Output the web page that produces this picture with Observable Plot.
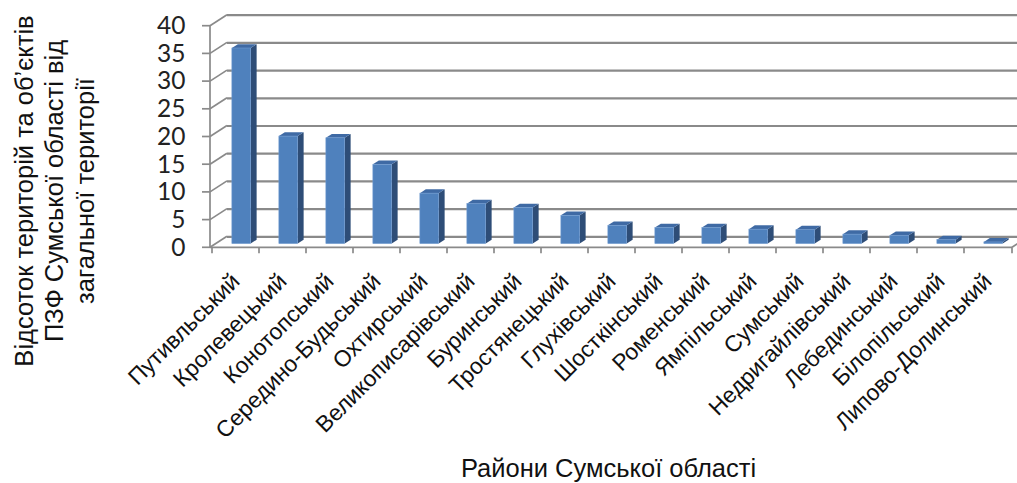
<!DOCTYPE html>
<html>
<head>
<meta charset="utf-8">
<script src="https://cdn.jsdelivr.net/npm/d3@7"></script>
<script src="https://cdn.jsdelivr.net/npm/@observablehq/plot@0.6"></script>
<style>
  html, body { margin: 0; padding: 0; background: #fff; }
  #chart svg { display: block; }
</style>
</head>
<body>
<div id="chart"></div>
<script>
// ---- data ----
const districts = ["Путивльський", "Кролевецький", "Конотопський", "Середино-Будьський", "Охтирський", "Великописарівський", "Буринський", "Тростянецький", "Глухівський", "Шосткінський", "Роменський", "Ямпільський", "Сумський", "Недригайлівський", "Лебединський", "Білопільський", "Липово-Долинський"];
const shares = [35.3, 19.4, 19.1, 14.3, 9.1, 7.2, 6.5, 5.1, 3.3, 2.9, 2.9, 2.6, 2.5, 1.7, 1.5, 0.7, 0.3];
const yTicks = [0, 5, 10, 15, 20, 25, 30, 35, 40];
const yTitle = "Відсоток територій та об’єктів\nПЗФ Сумської області від\nзагальної території";
const xTitle = "Райони Сумської області";

const data = districts.map((d, i) => ({district: d, value: shares[i]}));

// ---- styling of the pseudo-3D look ----
const DEPTH = [17, -11];      // offset of the back wall, px
const BAR_FRONT = 0.34;       // depth fraction where bars start
const BAR_THICK = 0.35;       // depth fraction of bar thickness
const BAR_WIDTH = 0.4;        // fraction of band
const gridColor = "#8a8a8a";
const faceFront = "#4f81bd", faceTop = "#3f6aa4", faceSide = "#2e4d77";

function decor(index, scales, values, dims) {
  const g = d3.create("svg:g").attr("stroke", gridColor).attr("fill", "none").attr("stroke-width", 1.7);
  const xl = dims.marginLeft, xr = dims.width - dims.marginRight;
  const y = scales.y;
  for (const t of yTicks) {
    g.append("line").attr("x1", xl).attr("y1", y(t)).attr("x2", xl + DEPTH[0]).attr("y2", y(t) + DEPTH[1]);
    g.append("line").attr("x1", xl - 8).attr("y1", y(t)).attr("x2", xl).attr("y2", y(t));
  }
  g.append("line").attr("x1", xl).attr("y1", y(0)).attr("x2", xl).attr("y2", y(yTicks[yTicks.length - 1]));
  g.append("line").attr("x1", xl).attr("y1", y(0)).attr("x2", xr).attr("y2", y(0));
  g.append("line").attr("x1", xr).attr("y1", y(0)).attr("x2", xr + DEPTH[0]).attr("y2", y(0) + DEPTH[1]);
  const bounds = districts.map(d => scales.x(d)).concat([xr]);
  for (const b of bounds) {
    g.append("line").attr("x1", b).attr("y1", y(0)).attr("x2", b).attr("y2", y(0) + 6);
  }
  return g.node();
}

function bars3d(index, scales, values, dims) {
  const g = d3.create("svg:g");
  const bw = scales.x.bandwidth();
  const ox = BAR_THICK * DEPTH[0], oy = BAR_THICK * DEPTH[1];
  for (const i of index) {
    const d = data[i];
    const x1 = scales.x(d.district) + (1 - BAR_WIDTH) / 2 * bw + BAR_FRONT * DEPTH[0];
    const x2 = x1 + BAR_WIDTH * bw;
    const yb = scales.y(0) + BAR_FRONT * DEPTH[1];
    const yt = scales.y(d.value) + BAR_FRONT * DEPTH[1];
    g.append("path")
      .attr("d", `M${x2},${yt}L${x2 + ox},${yt + oy}L${x2 + ox},${yb + oy}L${x2},${yb}Z`)
      .attr("fill", faceSide);
    g.append("path")
      .attr("d", `M${x1},${yt}L${x2},${yt}L${x2 + ox},${yt + oy}L${x1 + ox},${yt + oy}Z`)
      .attr("fill", faceTop);
    g.append("rect")
      .attr("x", x1).attr("y", yt).attr("width", x2 - x1).attr("height", Math.max(0, yb - yt))
      .attr("fill", faceFront).attr("stroke", "#6f9ad0").attr("stroke-width", 0.6);
  }
  return g.node();
}

const chart = Plot.plot({
  width: 1017,
  height: 483,
  marginLeft: 210,
  marginRight: 5,
  marginTop: 25.7,
  marginBottom: 235.7,
  style: {fontFamily: "'Liberation Sans', Arial, sans-serif", color: "#111", background: "#fff", overflow: "visible"},
  x: {type: "band", domain: districts, padding: 0, axis: null},
  y: {domain: [0, 40]},
  marks: [
    Plot.ruleY(yTicks, {dx: DEPTH[0], dy: DEPTH[1], stroke: gridColor, strokeWidth: 2.2}),
    Plot.ruleY([0], {render: decor}),
    Plot.barY(data, {x: "district", y: "value", render: bars3d}),
    Plot.axisY(yTicks, {tickSize: 0, tickPadding: 25, fontSize: 24.5, fontFamily: "Lato, 'Open Sans', sans-serif", label: null, fill: "#222"}),
    Plot.text(districts, {x: d => d, frameAnchor: "bottom", rotate: -45, textAnchor: "end", lineAnchor: "bottom", dx: 5, dy: 35, fontSize: 22.8, fill: "#111"}),
    Plot.text([yTitle], {frameAnchor: "left", rotate: -90, textAnchor: "middle", lineAnchor: "middle", lineHeight: 1.2, dx: -157, dy: 54, fontSize: 25.5, fill: "#111"}),
    Plot.text([xTitle], {frameAnchor: "bottom", lineAnchor: "bottom", dx: -3, dy: 229.5, fontSize: 25.5, fill: "#111"})
  ]
});
document.getElementById("chart").append(chart);
</script>
</body>
</html>
